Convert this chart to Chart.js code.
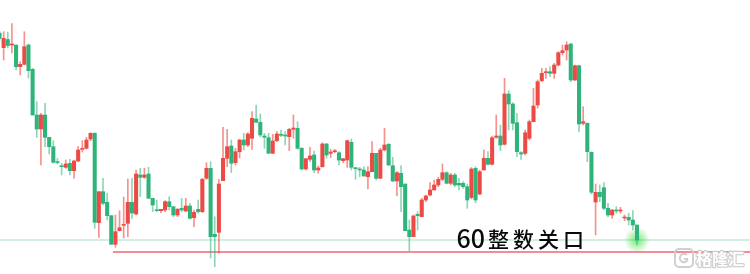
<!DOCTYPE html>
<html lang="zh">
<head>
<meta charset="UTF-8">
<title>60整数关口</title>
<script src="https://cdn.jsdelivr.net/npm/chart.js"></script>
<style>
  html, body { margin: 0; padding: 0; background: #fff; }
  #wrap { width: 750px; height: 274px; position: relative; }
</style>
</head>
<body>
<div id="wrap"><canvas id="kline"></canvas></div>
<script>
// daily candles, oldest first (red = up, green = down)
const open = [
  81.90, 80.43, 81.25, 80.70, 80.70, 78.53, 78.77, 80.70, 78.27, 73.70,
  72.30, 73.70, 71.47, 70.53, 69.03, 68.60, 68.47, 68.87, 68.13, 69.10,
  70.27, 70.37, 71.30, 71.87, 62.93, 66.03, 64.97, 63.63, 60.77, 62.13,
  62.67, 62.87, 64.97, 63.80, 67.70, 67.47, 67.80, 65.37, 64.20, 64.13,
  64.20, 65.03, 64.53, 63.70, 64.37, 64.10, 64.60, 63.43, 64.27, 64.03,
  67.37, 68.37, 61.77, 61.97, 67.13, 69.37, 70.60, 68.93, 70.03, 71.20,
  70.70, 71.37, 73.30, 72.97, 71.60, 71.43, 69.87, 71.13, 71.77, 71.67,
  71.53, 72.27, 72.37, 70.37, 68.30, 69.27, 69.70, 68.20, 68.53, 70.80,
  69.87, 70.03, 69.93, 69.13, 69.20, 70.97, 68.40, 68.30, 68.20, 67.53,
  68.03, 69.87, 67.37, 70.20, 70.77, 68.63, 67.10, 67.87, 66.80, 62.20,
  61.53, 63.77, 63.53, 65.20, 65.70, 66.20, 66.70, 67.27, 67.93, 66.87,
  67.70, 66.87, 66.87, 66.53, 65.45, 68.37, 65.80, 68.20, 69.37, 68.77,
  71.47, 71.60, 70.77, 75.80, 74.80, 72.93, 69.93, 69.87, 71.37, 73.03,
  74.70, 77.13, 77.93, 78.03, 77.87, 78.70, 79.93, 80.20, 80.80, 77.20,
  78.63, 72.87, 72.87, 69.97, 65.00, 65.97, 66.43, 64.37, 63.70, 64.20,
  64.10, 63.40, 63.47, 63.20, 62.70
]
const high = [
  82.10, 82.03, 82.00, 82.85, 80.70, 79.03, 82.03, 80.80, 78.37, 75.03,
  73.87, 74.87, 71.47, 71.13, 69.37, 68.87, 69.20, 69.27, 69.20, 70.53,
  71.13, 71.47, 71.93, 71.93, 66.03, 67.37, 65.87, 63.63, 63.70, 64.13,
  65.50, 67.30, 67.37, 68.20, 68.37, 68.37, 68.47, 65.37, 65.20, 64.27,
  65.13, 65.53, 64.53, 64.37, 65.37, 65.37, 64.87, 64.20, 65.20, 67.37,
  68.93, 69.03, 63.53, 67.27, 72.47, 72.27, 71.20, 70.37, 71.27, 71.87,
  71.93, 74.03, 74.70, 73.80, 71.87, 71.87, 71.77, 72.03, 72.20, 72.03,
  72.37, 73.70, 73.03, 70.47, 69.37, 70.47, 70.10, 68.60, 70.93, 70.87,
  70.27, 70.27, 70.03, 69.37, 71.20, 71.30, 68.47, 68.47, 68.53, 68.53,
  71.03, 69.87, 70.37, 72.37, 70.87, 69.47, 68.03, 68.63, 66.80, 63.20,
  63.70, 64.03, 65.37, 65.70, 66.93, 67.20, 67.47, 68.80, 68.03, 67.87,
  67.87, 67.37, 67.03, 66.80, 68.45, 68.53, 68.20, 70.20, 70.03, 71.60,
  73.70, 72.70, 77.37, 76.13, 74.93, 73.87, 70.03, 72.20, 73.20, 76.37,
  77.20, 78.37, 78.37, 78.53, 78.87, 80.03, 80.70, 81.03, 80.87, 78.70,
  78.70, 74.53, 72.93, 70.03, 66.80, 66.70, 66.93, 64.87, 64.27, 64.53,
  64.47, 63.70, 63.87, 64.13, 62.70
]
const low = [
  81.20, 79.20, 80.40, 79.90, 78.20, 77.70, 78.70, 77.40, 73.70, 71.47,
  68.70, 70.53, 69.80, 68.87, 68.80, 67.70, 68.37, 67.70, 67.37, 69.03,
  70.00, 70.30, 71.13, 62.37, 61.47, 64.70, 63.20, 60.77, 60.47, 62.10,
  61.40, 61.53, 63.37, 63.70, 65.53, 67.37, 65.37, 64.03, 64.03, 63.93,
  64.03, 64.20, 63.53, 63.53, 64.03, 64.03, 63.30, 62.53, 63.87, 63.93,
  67.27, 59.40, 58.53, 59.90, 67.13, 68.53, 67.93, 68.70, 69.40, 70.20,
  70.53, 70.27, 72.97, 71.53, 70.37, 69.87, 69.87, 71.03, 71.53, 70.70,
  70.13, 71.37, 70.27, 68.20, 68.20, 69.03, 67.93, 67.87, 68.47, 69.37,
  69.43, 69.93, 68.70, 68.93, 68.47, 68.20, 67.27, 67.53, 67.60, 66.30,
  68.03, 67.20, 67.37, 70.10, 68.63, 67.03, 65.63, 64.03, 62.13, 60.13,
  61.53, 62.20, 63.53, 65.03, 65.60, 66.20, 66.53, 67.13, 66.80, 66.70,
  66.53, 66.20, 66.37, 64.37, 65.30, 64.93, 65.70, 68.20, 68.70, 68.70,
  71.37, 70.13, 70.70, 72.20, 72.20, 69.53, 69.27, 69.70, 71.20, 73.03,
  74.37, 77.03, 77.37, 77.53, 77.37, 78.60, 79.70, 79.20, 77.03, 77.13,
  72.03, 72.70, 69.03, 65.80, 61.70, 65.03, 64.20, 63.53, 63.37, 63.87,
  63.87, 63.13, 62.70, 62.20, 60.70
]
const close = [
  81.35, 81.37, 80.65, 80.80, 78.53, 78.77, 80.53, 78.13, 73.70, 72.30,
  73.70, 71.47, 70.53, 68.97, 68.93, 68.53, 68.80, 68.13, 69.10, 70.20,
  70.33, 71.20, 71.87, 62.97, 66.03, 64.87, 63.63, 60.77, 62.03, 62.43,
  62.77, 64.97, 63.90, 67.80, 67.47, 67.70, 65.37, 64.70, 64.13, 64.27,
  65.03, 64.53, 63.70, 64.27, 64.20, 64.60, 63.37, 63.97, 64.03, 67.27,
  68.37, 61.53, 61.53, 66.80, 69.37, 70.53, 68.87, 70.03, 71.20, 70.70,
  71.80, 73.37, 72.97, 71.70, 71.47, 69.87, 71.10, 71.80, 71.67, 71.60,
  72.27, 72.40, 70.37, 68.30, 69.33, 69.60, 68.20, 68.40, 70.80, 69.70,
  70.00, 70.13, 69.20, 69.33, 71.13, 68.47, 68.33, 68.20, 67.60, 68.03,
  69.87, 67.37, 70.20, 70.70, 68.70, 67.10, 67.93, 66.53, 62.13, 61.53,
  63.60, 63.63, 65.20, 65.60, 66.20, 66.70, 67.27, 67.93, 66.87, 67.70,
  66.70, 66.70, 66.53, 65.20, 68.30, 65.20, 68.03, 69.37, 68.77, 71.43,
  71.60, 70.70, 75.80, 74.80, 72.87, 70.03, 69.80, 71.93, 73.03, 74.60,
  77.03, 77.87, 78.03, 77.87, 78.70, 79.93, 80.13, 80.70, 77.20, 78.63,
  72.80, 73.03, 70.03, 65.97, 65.97, 65.53, 64.37, 63.70, 64.20, 64.10,
  64.20, 63.47, 63.20, 62.70, 61.20
]

const levelPrice = 60        // 60整数关口
const levelStart = 27.4      // red level line begins around this candle
const labelText = ["60", "整", "数", "关", "口"]
const labelAt = { x: 110.4, y: 60.45 }

const xMin = 0.12, xMax = 181.3
const yMin = 57.8, yMax = 85.2

const UP = "#ec4a45", DOWN = "#2eb47a"
const UP_WICK = "rgba(236,74,69,0.6)", DOWN_WICK = "rgba(46,180,122,0.55)"

const idx = close.map((_, i) => i)
const isUp = idx.map(i => close[i] >= open[i])
const lastClose = close[close.length - 1]

const wicks = idx.map(i => ({ x: i, y: [low[i], high[i]] }))
const bodies = idx.map(i => ({ x: i, y: [Math.min(open[i], close[i]), Math.max(open[i], close[i])] }))

const extras = {
  id: "extras",
  beforeDatasetsDraw(chart) {
    const { ctx, scales } = chart
    const i = close.length - 1
    const gx = scales.x.getPixelForValue(i)
    const gy = scales.y.getPixelForValue(lastClose)
    const g = ctx.createRadialGradient(gx, gy, 0, gx, gy, 13)
    g.addColorStop(0, "rgba(70,225,70,0.75)")
    g.addColorStop(1, "rgba(70,225,70,0)")
    ctx.save()
    ctx.fillStyle = g
    ctx.beginPath()
    ctx.arc(gx, gy, 13, 0, Math.PI * 2)
    ctx.fill()
    ctx.restore()
  },
  afterDraw(chart) {
    const { ctx, scales, width, height } = chart
    ctx.save()
    // level label
    let x = scales.x.getPixelForValue(labelAt.x)
    const y = scales.y.getPixelForValue(labelAt.y)
    ctx.fillStyle = "#0a0a0a"
    ctx.textBaseline = "alphabetic"
    ctx.font = '500 25px "Noto Sans CJK SC"'
    ctx.fillText(labelText[0], x, y)
    x += ctx.measureText(labelText[0]).width + 3
    ctx.font = '500 21px "Noto Sans CJK SC"'
    labelText.slice(1).forEach(ch => {
      ctx.fillText(ch, x, y - 0.5)
      x += 25
    })

    // watermark
    const lx = width - 75, ly = height - 25
    ctx.strokeStyle = "rgba(205,205,205,0.95)"
    ctx.lineWidth = 2
    ctx.beginPath()
    ctx.roundRect(lx, ly, 18, 18, 4)
    ctx.stroke()
    ctx.beginPath()
    ctx.arc(lx + 9, ly + 9, 4.2, 0.15 * Math.PI, 1.75 * Math.PI, false)
    ctx.moveTo(lx + 9, ly + 10)
    ctx.lineTo(lx + 13, ly + 10)
    ctx.stroke()
    ctx.font = 'bold 16px "Noto Sans CJK SC"'
    ctx.textBaseline = "middle"
    ctx.lineWidth = 2.5
    ctx.lineJoin = "round"
    ctx.strokeText("格隆汇", lx + 21, ly + 9.5)
    ctx.fillStyle = "#fff"
    ctx.fillText("格隆汇", lx + 21, ly + 9.5)
    ctx.restore()
  }
}

new Chart(document.getElementById("kline"), {
  type: "bar",
  data: {
    datasets: [
      {
        type: "line",
        data: [{ x: xMin, y: lastClose }, { x: xMax, y: lastClose }],
        borderColor: "rgba(46,180,122,0.28)",
        borderWidth: 1.5,
        pointRadius: 0,
        order: 5
      },
      {
        type: "line",
        data: [{ x: levelStart, y: levelPrice }, { x: xMax, y: levelPrice }],
        borderColor: "rgba(242,100,112,0.75)",
        borderWidth: 2.2,
        pointRadius: 0,
        order: 5
      },
      {
        data: wicks,
        backgroundColor: idx.map(i => isUp[i] ? UP_WICK : DOWN_WICK),
        barThickness: 1,
        grouped: false,
        order: 2
      },
      {
        data: bodies,
        backgroundColor: idx.map(i => isUp[i] ? UP : DOWN),
        barThickness: 3.4,
        minBarLength: 1,
        grouped: false,
        order: 1
      }
    ]
  },
  options: {
    responsive: true,
    maintainAspectRatio: false,
    animation: false,
    layout: { padding: 0 },
    plugins: { legend: { display: false }, tooltip: { enabled: false } },
    scales: {
      x: { type: "linear", min: xMin, max: xMax, offset: false, display: false },
      y: { min: yMin, max: yMax, display: false }
    }
  },
  plugins: [extras]
})
</script>
</body>
</html>
